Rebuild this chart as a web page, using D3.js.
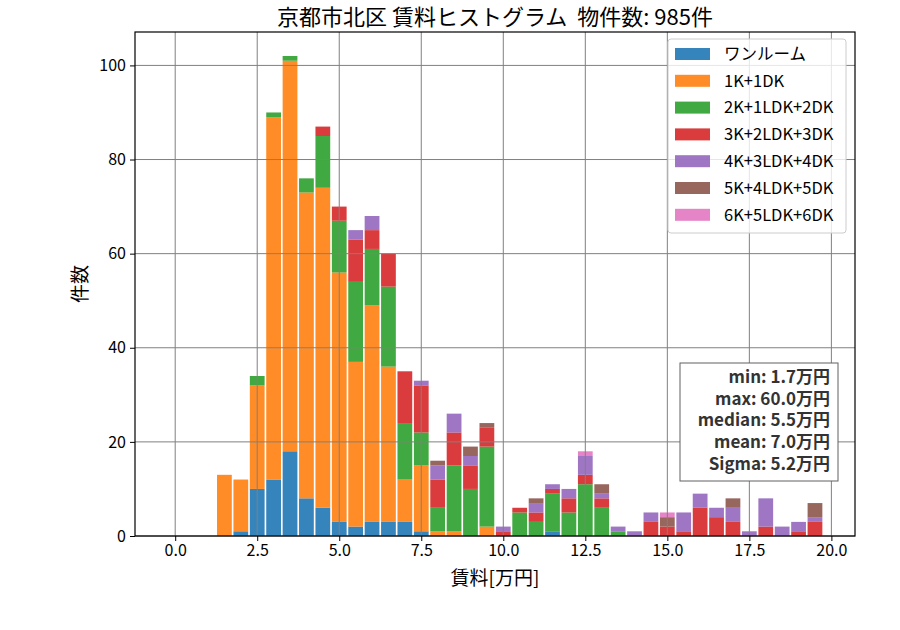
<!DOCTYPE html>
<html>
<head>
<meta charset="utf-8">
<script src="https://cdn.jsdelivr.net/npm/d3@7"></script>
<style>
  body { margin: 0; background: #fff; }
  svg { font-family: "Noto Sans CJK JP", "Noto Sans", sans-serif; }
</style>
</head>
<body>
<svg id="chart" width="900" height="630"></svg>
<script>
// bin centres (万円), bin width 0.5
const binCenters = [1.5, 2.0, 2.5, 3.0, 3.5, 4.0, 4.5, 5.0, 5.5, 6.0, 6.5, 7.0, 7.5, 8.0, 8.5, 9.0, 9.5,
    10.0, 10.5, 11.0, 11.5, 12.0, 12.5, 13.0, 13.5, 14.0, 14.5, 15.0, 15.5, 16.0, 16.5, 17.0, 17.5,
    18.0, 18.5, 19.0, 19.5];

const categories = ['ワンルーム', '1K+1DK', '2K+1LDK+2DK', '3K+2LDK+3DK', '4K+3LDK+4DK', '5K+4LDK+5DK', '6K+5LDK+6DK'];

const oneRoom = [0, 1, 10, 12, 18, 8, 6, 3, 2, 3, 3, 3, 1, 0, 0, 0, 0, 0, 0, 0, 1, 0, 0, 0, 0, 0, 0, 0, 0, 0, 0, 0, 0, 0, 0, 0, 0];
const oneK    = [13, 11, 22, 77, 83, 65, 68, 53, 35, 46, 33, 9, 14, 1, 1, 0, 2, 0, 0, 0, 0, 0, 0, 0, 0, 0, 0, 0, 0, 0, 0, 0, 0, 0, 0, 0, 0];
const twoK    = [0, 0, 2, 1, 1, 3, 11, 11, 17, 12, 17, 12, 7, 5, 14, 10, 17, 0, 5, 3, 8, 5, 11, 6, 1, 0, 0, 0, 0, 0, 0, 0, 0, 0, 0, 0, 0];
const threeK  = [0, 0, 0, 0, 0, 0, 2, 3, 9, 4, 7, 11, 10, 6, 7, 5, 4, 1, 1, 2, 1, 3, 2, 2, 0, 0, 3, 2, 1, 6, 4, 3, 0, 2, 0, 1, 3];
const fourK   = [0, 0, 0, 0, 0, 0, 0, 0, 2, 3, 0, 0, 1, 3, 4, 2, 0, 1, 0, 2, 1, 2, 4, 1, 1, 1, 2, 0, 4, 3, 2, 3, 1, 6, 2, 2, 1];
const fiveK   = [0, 0, 0, 0, 0, 0, 0, 0, 0, 0, 0, 0, 0, 1, 0, 2, 1, 0, 0, 1, 0, 0, 0, 2, 0, 0, 0, 2, 0, 0, 0, 2, 0, 0, 0, 0, 3];
const sixK    = [0, 0, 0, 0, 0, 0, 0, 0, 0, 0, 0, 0, 0, 0, 0, 0, 0, 0, 0, 0, 0, 0, 1, 0, 0, 0, 0, 1, 0, 0, 0, 0, 0, 0, 0, 0, 0];

const seriesValues = [oneRoom, oneK, twoK, threeK, fourK, fiveK, sixK];
const colors = ['#1f77b4', '#ff7f0e', '#2ca02c', '#d62728', '#9467bd', '#8c564b', '#e377c2'];

const xTicks = [0, 2.5, 5, 7.5, 10, 12.5, 15, 17.5, 20];
const yTicks = [0, 20, 40, 60, 80, 100];

const statLines = ['min: 1.7万円', 'max: 60.0万円', 'median: 5.5万円', 'mean: 7.0万円', 'Sigma: 5.2万円'];
const titleText = '京都市北区 賃料ヒストグラム  物件数: 985件';

const binWidth = 0.5;
const rwidth = 0.9;

const margin = { left: 135, right: 45, top: 32, bottom: 94 };
const width = 900, height = 630;
const plotW = width - margin.left - margin.right;
const plotH = height - margin.top - margin.bottom;

const svg = d3.select('#chart');

const x = d3.scaleLinear().domain([-1.225, 20.72]).range([0, plotW]);
const y = d3.scaleLinear().domain([0, 107.1]).range([plotH, 0]);

// table for d3.stack
const table = binCenters.map((c, i) => {
    const row = { center: c };
    categories.forEach((cat, k) => { row[cat] = seriesValues[k][i]; });
    return row;
});
const stacked = d3.stack().keys(categories)(table);

const g = svg.append('g').attr('transform', `translate(${margin.left},${margin.top})`);

// bars
g.selectAll('g.series')
    .data(stacked)
    .join('g')
    .attr('class', 'series')
    .attr('fill', (d, i) => colors[i])
    .attr('fill-opacity', 0.9)
    .selectAll('rect')
    .data(d => d.filter(s => s[1] > s[0]))
    .join('rect')
    .attr('x', d => x(d.data.center - binWidth * rwidth / 2))
    .attr('width', d => x(binWidth * rwidth) - x(0))
    .attr('y', d => y(d[1]))
    .attr('height', d => y(d[0]) - y(d[1]));

// grid lines (drawn over the bars)
const grid = g.append('g').attr('stroke', '#808080').attr('stroke-width', 1);
grid.selectAll('line.vx')
    .data(xTicks)
    .join('line')
    .attr('x1', d => x(d)).attr('x2', d => x(d))
    .attr('y1', 0).attr('y2', plotH);
grid.selectAll('line.hy')
    .data(yTicks)
    .join('line')
    .attr('x1', 0).attr('x2', plotW)
    .attr('y1', d => y(d)).attr('y2', d => y(d));

// axes
const xAxis = g.append('g')
    .attr('transform', `translate(0,${plotH})`)
    .call(d3.axisBottom(x).tickValues(xTicks).tickFormat(d3.format('.1f')).tickSize(5).tickPadding(4));
const yAxis = g.append('g')
    .call(d3.axisLeft(y).tickValues(yTicks).tickSize(5).tickPadding(4));
[xAxis, yAxis].forEach(a => {
    a.select('.domain').remove();
    a.selectAll('text').attr('font-size', 16).attr('fill', '#000')
        .attr('font-family', '"Noto Sans CJK JP", sans-serif');
    a.selectAll('line').attr('stroke', '#000');
});

// frame
g.append('rect')
    .attr('width', plotW).attr('height', plotH)
    .attr('fill', 'none').attr('stroke', '#000').attr('stroke-width', 1.2);

// title and labels
svg.append('text')
    .attr('x', margin.left + plotW / 2).attr('y', 25)
    .attr('text-anchor', 'middle').attr('font-size', 22)
    .style('white-space', 'pre')
    .text(titleText);

svg.append('text')
    .attr('x', margin.left + plotW / 2).attr('y', 585)
    .attr('text-anchor', 'middle').attr('font-size', 19)
    .text('賃料[万円]');

svg.append('text')
    .attr('transform', `translate(87,${margin.top + plotH / 2}) rotate(-90)`)
    .attr('text-anchor', 'middle').attr('font-size', 19)
    .text('件数');

// legend
const legend = g.append('g').attr('transform', `translate(${plotW - 187},7)`);
legend.append('rect')
    .attr('width', 178).attr('height', 194)
    .attr('rx', 3)
    .attr('fill', '#fff').attr('fill-opacity', 0.8)
    .attr('stroke', '#ccc');
const items = legend.selectAll('g.item')
    .data(categories)
    .join('g')
    .attr('class', 'item')
    .attr('transform', (d, i) => `translate(0,${15 + i * 26.8})`);
items.append('rect')
    .attr('x', 7).attr('y', -6)
    .attr('width', 35).attr('height', 12)
    .attr('fill', (d, i) => colors[i]).attr('fill-opacity', 0.9);
items.append('text')
    .attr('x', 56).attr('y', 0).attr('dy', '0.35em')
    .attr('font-size', 16.5)
    .text(d => d);

// stats box
const statsG = g.append('g').attr('transform', `translate(${plotW - 175},${331})`);
statsG.append('rect')
    .attr('width', 158).attr('height', 118)
    .attr('fill', '#fff').attr('stroke', '#606060').attr('stroke-width', 1);
statsG.selectAll('text')
    .data(statLines)
    .join('text')
    .attr('x', 150)
    .attr('y', (d, i) => 14 + i * 21.7)
    .attr('dy', '0.35em')
    .attr('text-anchor', 'end')
    .attr('font-size', 17)
    .attr('font-weight', 'bold')
    .attr('fill', '#333')
    .text(d => d);
</script>
</body>
</html>
